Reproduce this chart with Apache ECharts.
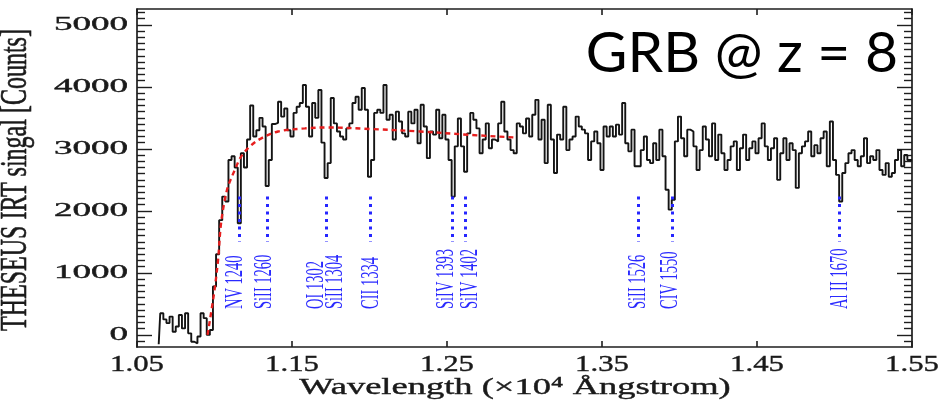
<!DOCTYPE html>
<html>
<head>
<meta charset="utf-8">
<script src="https://cdn.jsdelivr.net/npm/echarts@6.0.0/dist/echarts.min.js"></script>
<style>
html,body{margin:0;padding:0;background:#ffffff;}
#chart{width:945px;height:408px;}
</style>
</head>
<body>
<div id="chart"></div>
<script>
// ---------------- DATA ----------------
const wavelength = [
1.064,1.066,1.068,1.070,1.072,1.074,1.076,1.078,1.080,1.082,
1.084,1.086,1.088,1.090,1.092,1.094,1.096,1.098,1.100,1.102,
1.104,1.106,1.108,1.110,1.112,1.114,1.116,1.118,1.120,1.122,
1.124,1.126,1.128,1.130,1.132,1.134,1.136,1.138,1.140,1.142,
1.144,1.146,1.148,1.150,1.152,1.154,1.156,1.158,1.160,1.162,
1.164,1.166,1.168,1.170,1.172,1.174,1.176,1.178,1.180,1.182,
1.184,1.186,1.188,1.190,1.192,1.194,1.196,1.198,1.200,1.202,
1.204,1.206,1.208,1.210,1.212,1.214,1.216,1.218,1.220,1.222,
1.224,1.226,1.228,1.230,1.232,1.234,1.236,1.238,1.240,1.242,
1.244,1.246,1.248,1.250,1.252,1.254,1.256,1.258,1.260,1.262,
1.264,1.266,1.268,1.270,1.272,1.274,1.276,1.278,1.280,1.282,
1.284,1.286,1.288,1.290,1.292,1.294,1.296,1.298,1.300,1.302,
1.304,1.306,1.308,1.310,1.312,1.314,1.316,1.318,1.320,1.322,
1.324,1.326,1.328,1.330,1.332,1.334,1.336,1.338,1.340,1.342,
1.344,1.346,1.348,1.350,1.352,1.354,1.356,1.358,1.360,1.362,
1.364,1.366,1.368,1.370,1.372,1.374,1.376,1.378,1.380,1.382,
1.384,1.386,1.388,1.390,1.392,1.394,1.396,1.398,1.400,1.402,
1.404,1.406,1.408,1.410,1.412,1.414,1.416,1.418,1.420,1.422,
1.424,1.426,1.428,1.430,1.432,1.434,1.436,1.438,1.440,1.442,
1.444,1.446,1.448,1.450,1.452,1.454,1.456,1.458,1.460,1.462,
1.464,1.466,1.468,1.470,1.472,1.474,1.476,1.478,1.480,1.482,
1.484,1.486,1.488,1.490,1.492,1.494,1.496,1.498,1.500,1.502,
1.504,1.506,1.508,1.510,1.512,1.514,1.516,1.518,1.520,1.522,
1.524,1.526,1.528,1.530,1.532,1.534,1.536,1.538,1.540,1.542,
1.544,1.546,1.548,1.550
];
const counts = [
-150,350,250,190,295,50,135,320,105,350,
25,-110,-135,-25,350,270,0,80,780,1300,
1850,2230,2150,2820,2880,2700,1800,2930,2700,3150,
3700,3200,3300,3500,3360,2400,2820,3400,3420,3760,
3520,3650,3300,3200,3580,3680,3740,4030,3680,3200,
3740,3500,3950,3100,2530,2770,3820,3410,3280,3200,
3150,3330,3410,3740,3840,3630,3980,3630,2550,2820,
3580,3630,3580,4030,3470,3550,3150,3600,3440,3250,
3200,3600,3410,3630,3090,3710,3360,2850,3280,3230,
3630,3170,3550,3150,2820,2230,3040,3490,3040,2630,
3250,3580,3470,3330,2930,3150,3410,3010,3150,3120,
3410,3760,3280,3150,2980,2930,3410,3360,3250,3490,
3200,3550,3790,3150,3470,2770,3710,3150,2610,3230,
3150,3680,2980,3150,3200,3520,3360,3310,3250,2820,
3120,3280,3090,2660,3360,3200,3360,3200,3390,3230,
3740,3090,2960,3310,2720,2720,2980,3200,2820,2770,
3090,2820,3310,2880,2340,2020,2180,3120,3520,3170,
2880,3310,3280,3040,2660,2980,3360,3150,2880,3410,
2820,3230,2930,2660,2820,3040,3120,2660,3010,3230,
2820,3010,3120,2930,3170,3410,3040,2820,3010,3170,
2500,2930,3170,2820,3090,2980,2370,2930,3040,3120,
3280,2880,3060,2930,3170,3280,2720,3440,2820,2580,
2150,2610,2770,2930,2980,2820,2720,2880,3170,2770,
2880,2820,2980,2660,2580,2770,2550,2610,2820,2980,
2720,2900,2820,2820
];
const modelWavelength = [1.0955,1.0997,1.1023,1.1040,1.1062,1.1087,1.1131,1.1173,1.1238,1.1302,1.1410,1.1583,1.1733,1.2004,1.2327,1.2650,1.2928];
const modelCounts     = [0,670,1210,1750,2120,2390,2660,2880,3060,3170,3280,3330,3345,3320,3280,3225,3185];

const lineNames = ['NV 1240','SiII 1260','OI 1302','SiII 1304','CII 1334','SiIV 1393','SiIV 1402','SiII 1526','CIV 1550','Al II 1670'];
const lineRest  = [1240,1260,1302,1304,1334,1393,1402,1526,1550,1670];
const redshift = 8;
const markerTop = 2230, markerBottom = 1500;

const xTickLabels = ['1.05','1.15','1.25','1.35','1.45','1.55'];
const yTickLabels = ['0','1000','2000','3000','4000','5000'];
const yMinorTicks = [-100,100,200,300,400,500,600,700,800,900,1100,1200,1300,1400,1500,1600,1700,1800,1900,
  2100,2200,2300,2400,2500,2600,2700,2800,2900,3100,3200,3300,3400,3500,3600,3700,3800,3900,
  4100,4200,4300,4400,4500,4600,4700,4800,4900,5100,5200];

const titleText = 'GRB @ z = 8';
const xTitle = 'Wavelength (\u00d710\u2074 \u00c5ngstrom)';
const yTitle = 'THESEUS IRT singal [Counts]';

// ---------------- CHART ----------------
const Y_MIN = -195, Y_MAX = 5255;
const AX = '#1e1e1e';
const serif = '"Liberation Serif","Times New Roman",serif';
const lineObs = lineRest.map(r => r * (1 + redshift) / 1e4);

const markerPos = [];
lineObs.forEach(w => { if (!markerPos.some(p => Math.abs(p - w) < 0.003)) markerPos.push(w); });

function yAx(pos, showLine, len, vals) {
  return {
    type: 'value', min: Y_MIN, max: Y_MAX, position: pos,
    axisLine: {show: showLine, onZero: false, lineStyle: {color: AX, width: 1.7}},
    axisTick: {show: true, inside: true, length: len, customValues: vals, lineStyle: {color: AX, width: 1.4}},
    axisLabel: {show: false}, splitLine: {show: false}
  };
}
function xAx(pos) {
  return {
    type: 'value', min: 1.05, max: 1.55, interval: 0.1, position: pos,
    axisLine: {show: true, onZero: false, lineStyle: {color: AX, width: 1.7}},
    axisTick: {show: true, inside: true, length: 6, lineStyle: {color: AX, width: 1.6}},
    axisLabel: {show: false}, splitLine: {show: false}
  };
}
const yMajorVals = yTickLabels.map(Number);

const option = {
  animation: false,
  backgroundColor: '#ffffff',
  grid: {left: 137, right: 33, top: 9, bottom: 61},
  xAxis: [xAx('bottom'), xAx('top')],
  yAxis: [
    yAx('left', true, 15, yMajorVals),
    yAx('left', false, 8, yMinorTicks),
    yAx('right', true, 15, yMajorVals),
    yAx('right', false, 8, yMinorTicks)
  ],
  series: [
    {
      type: 'line', xAxisIndex: 0, yAxisIndex: 0,
      data: wavelength.map((w, i) => [w, counts[i]]),
      step: 'middle', symbol: 'none', showSymbol: false,
      lineStyle: {color: '#141414', width: 1.9},
      z: 3, silent: true,
      markLine: {
        silent: true, symbol: ['none', 'none'], animation: false,
        label: {show: false},
        lineStyle: {color: '#2626ff', width: 3, type: [3, 4.5], cap: 'butt'},
        emphasis: {disabled: true},
        data: markerPos.map(w => [{coord: [w, markerTop]}, {coord: [w, markerBottom]}])
      }
    },
    {
      type: 'line', xAxisIndex: 0, yAxisIndex: 0,
      data: modelWavelength.map((w, i) => [w, modelCounts[i]]),
      smooth: 0.35, symbol: 'none', showSymbol: false,
      lineStyle: {color: '#e61e1e', width: 2.4, type: [5, 4]},
      z: 4, silent: true
    }
  ]
};

const chart = echarts.init(document.getElementById('chart'), null, {renderer: 'canvas'});
chart.setOption(option);

const gx = v => chart.convertToPixel({xAxisIndex: 0}, v);
const gy = v => chart.convertToPixel({yAxisIndex: 0}, v);

function txt(text, x, y, o) {
  return {
    type: 'text', x: x, y: y, z: 100,
    rotation: o.rotation || 0, scaleX: o.scaleX || 1, scaleY: o.scaleY || 1,
    silent: true,
    style: {
      text: text, fill: o.fill || '#1a1a1a',
      fontFamily: o.fontFamily || serif, fontSize: o.fontSize, fontWeight: 'normal',
      align: o.align || 'center', textAlign: o.align || 'center',
      verticalAlign: 'middle', textVerticalAlign: 'middle',
      stroke: o.stroke || null, lineWidth: o.stroke ? 0.4 : 0
    }
  };
}

const labelDx = {'NV 1240': -4, 'SiII 1260': -3, 'OI 1302': -9, 'SiII 1304': 7, 'CII 1334': 1,
  'SiIV 1393': -6, 'SiIV 1402': 5, 'SiII 1526': 0, 'CIV 1550': -1, 'Al II 1670': 1};

const g = [];
yTickLabels.forEach(t => g.push(txt(t, 128, gy(Number(t)), {fontSize: 19, scaleX: 1.95, align: 'right', stroke: '#1a1a1a'})));
xTickLabels.forEach(t => g.push(txt(t, gx(Number(t)), 365, {fontSize: 24, scaleX: 1.28, stroke: '#1a1a1a'})));
g.push(txt(xTitle, 515, 387.5, {fontSize: 24, scaleX: 1.52, stroke: '#1a1a1a'}));
g.push(txt(yTitle, 16, 180, {fontSize: 24, scaleY: 1.57, rotation: Math.PI / 2, stroke: '#1a1a1a'}));
lineNames.forEach((n, i) => g.push(txt(n, gx(lineObs[i]) + labelDx[n], 309,
  {fontSize: 14.5, scaleY: 1.75, rotation: Math.PI / 2, align: 'left', fill: '#2a2aff'})));
g.push(txt(titleText, 898, 53.5, {fontSize: 57, fontFamily: 'Lato, "Open Sans", sans-serif', fill: '#000000', align: 'right'}));

chart.setOption({graphic: {elements: g}});
</script>
</body>
</html>
